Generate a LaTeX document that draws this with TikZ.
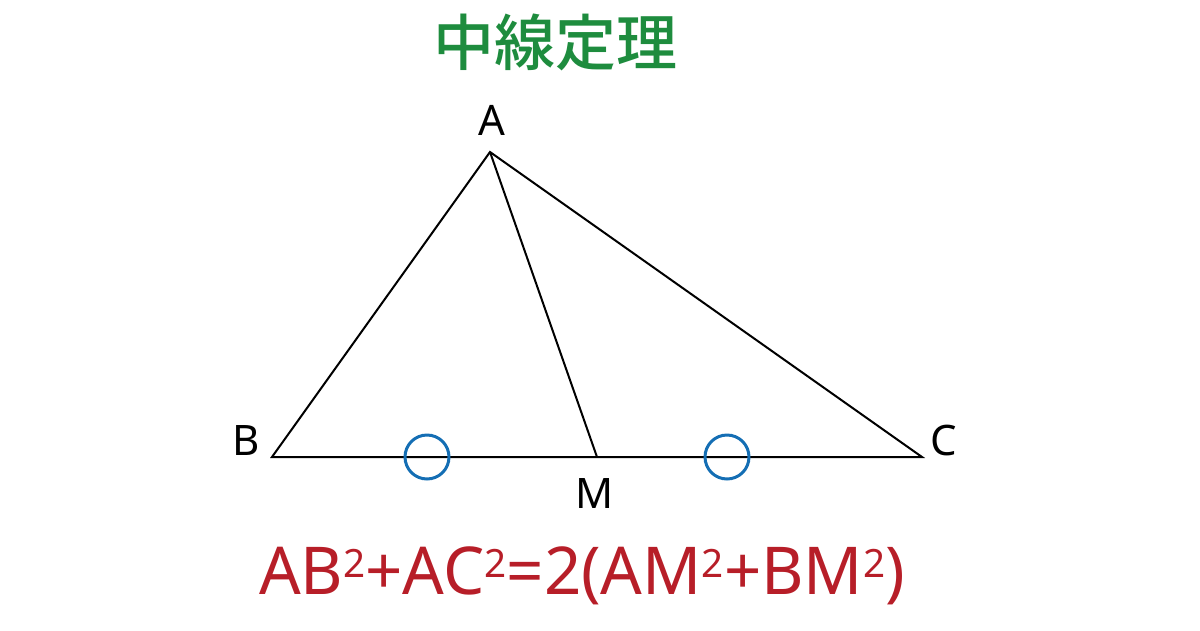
\documentclass[tikz,border=0pt]{standalone}
\usepackage{fontspec}
\setmainfont{Noto Sans}
\newfontfamily\cjk{Noto Sans CJK JP Medium}
\definecolor{titlegreen}{RGB}{30,140,62}
\definecolor{formulared}{RGB}{183,30,40}
\definecolor{markblue}{RGB}{20,110,180}
\newcommand{\sqr}{\raisebox{17pt}{\fontsize{39}{39}\selectfont 2}}
\begin{document}
\begin{tikzpicture}[x=1pt,y=-1pt]
\tikzset{vertex/.style={font=\fontsize{42}{42}\selectfont,inner sep=0pt},
  edgeline/.style={line width=2pt},
  tick/.style={draw=markblue,line width=3pt,circle,minimum size=44pt,inner sep=0pt}}
\useasboundingbox (0,0) rectangle (1200,630);
\node[text=titlegreen,font=\cjk\fontsize{61}{61}\selectfont] (T) at (555,42) {中線定理};
\coordinate (A) at (490,152);
\coordinate (B) at (272,457);
\coordinate (C) at (922,457);
\coordinate (M) at (597,457);
\node[vertex] (LA) at (492,120) {A};
\node[vertex] (LB) at (246,440) {B};
\node[vertex] (LC) at (944,440) {C};
\node[vertex] (LM) at (595,493) {M};
\draw[edgeline,line join=miter] (A) -- (B) -- (C) -- cycle;
\path [edgeline] (A) edge (M);
\node[tick] (P) at (427,457) {};
\node[tick] (Q) at (727,457) {};
\node[text=formulared,font=\fontsize{66}{66}\selectfont,xscale=0.99] (F) at (582,576) {AB\sqr+AC\sqr=2(AM\sqr+BM\sqr)};
\end{tikzpicture}
\end{document}
